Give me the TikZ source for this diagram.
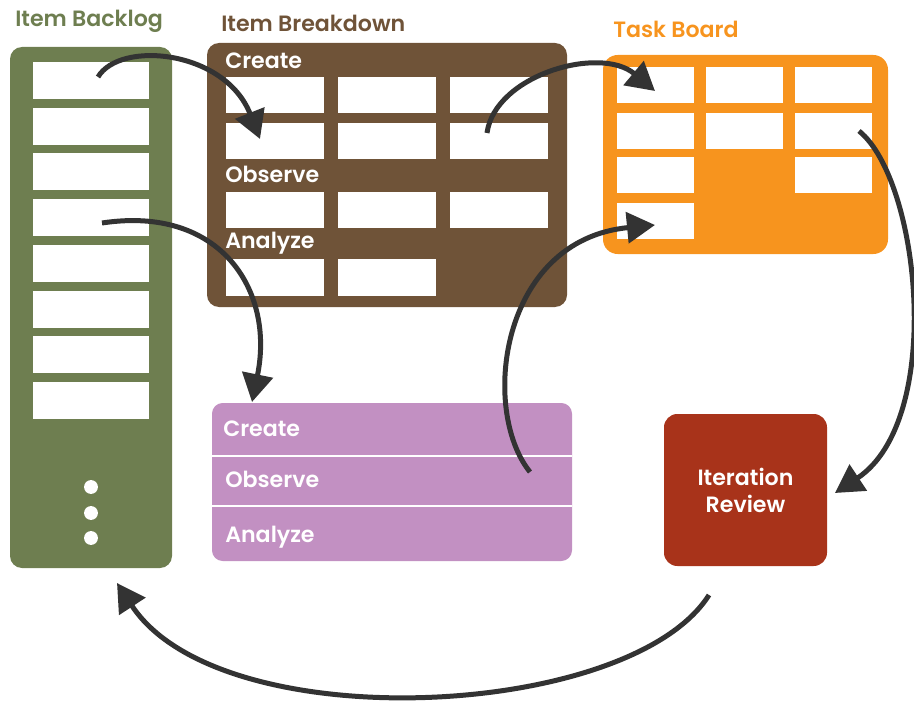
\documentclass[tikz,border=0pt]{standalone}
\usepackage{fontspec}
\setmainfont{Poppins}[BoldFont={Poppins SemiBold}]
\usetikzlibrary{arrows.meta}
\definecolor{cgreen}{HTML}{6E7E50}
\definecolor{cbrown}{HTML}{6F5338}
\definecolor{corange}{HTML}{F7941E}
\definecolor{cpurple}{HTML}{C290C2}
\definecolor{cred}{HTML}{A8331A}
\definecolor{carrow}{HTML}{333333}
\begin{document}
\begin{tikzpicture}[x=0.75pt,y=-0.75pt,
  panel/.style={rounded corners=9pt, inner sep=0pt, draw=none},
  cellb/.style={fill=white, inner sep=0pt, minimum width=87pt, minimum height=27.75pt},
  cellbr/.style={fill=white, inner sep=0pt, minimum width=73.5pt, minimum height=27.4pt},
  cello/.style={fill=white, inner sep=0pt, minimum width=57.75pt, minimum height=27pt},
  lbl/.style={anchor=base west, inner sep=0pt, text=white, font=\bfseries\fontsize{16.6}{20}\selectfont},
  ttl/.style={anchor=base west, inner sep=0pt, font=\bfseries\fontsize{16.6}{20}\selectfont},
  sep/.style={draw=white, line width=2.2pt},
  flow/.style={draw=carrow, line width=3.75pt, -{Triangle[length=21pt,width=23pt]}}
]
\useasboundingbox (0,0) rectangle (914,706);

% titles
\node[ttl, text=cgreen] (tbl) at (15,27) {Item Backlog};
\node[ttl, text=cbrown] (tbd) at (221,32) {Item Breakdown};
\node[ttl, text=corange] (ttb) at (613,38) {Task Board};

% backlog
\node[panel, fill=cgreen, minimum width=121.5pt, minimum height=390.75pt] (backlog) at (91,307.5) {};
\foreach \i in {0,...,7} \node[cellb] (bl\i) at (91,{80.5+45.7*\i}) {};
\fill[white] (91,487) circle (5.2pt);
\fill[white] (91,513) circle (5.2pt);
\fill[white] (91,538) circle (5.2pt);

% breakdown
\node[panel, fill=cbrown, minimum width=270pt, minimum height=198pt] (breakdown) at (387,175) {};
\foreach \c/\x in {1/274.5,2/386.5,3/499} {
  \node[cellbr] (bc1\c) at (\x,95) {};
  \node[cellbr] (bc2\c) at (\x,141) {};
  \node[cellbr] (bo\c) at (\x,210) {};
}
\node[cellbr] (ba1) at (274.5,277.5) {};
\node[cellbr] (ba2) at (386.5,277.5) {};
\node[lbl] (bdc) at (225,69) {Create};
\node[lbl] (bdo) at (225,183) {Observe};
\node[lbl] (bda) at (225,248) {Analyze};

% task board
\node[panel, fill=corange, rounded corners=11pt, minimum width=213.75pt, minimum height=149.25pt] (taskboard) at (745.5,154.5) {};
\foreach \c/\x in {1/655.5,2/744,3/833} {
  \node[cello] (to1\c) at (\x,85) {};
  \node[cello] (to2\c) at (\x,131) {};
}
\node[cello] (to31) at (655.5,175) {};
\node[cello] (to33) at (833,175) {};
\node[cello] (to41) at (655.5,221) {};

% purple
\node[panel, fill=cpurple, rounded corners=8pt, minimum width=270pt, minimum height=118.5pt] (purple) at (392,482) {};
\draw[sep] (212,456) -- (572,456);
\draw[sep] (212,506) -- (572,506);
\node[lbl] (ppc) at (223,436) {Create};
\node[lbl] (ppo) at (225,487) {Observe};
\node[lbl] (ppa) at (225,542) {Analyze};

% review
\node[panel, fill=cred, rounded corners=10pt, minimum width=122.25pt, minimum height=114pt,
      text=white, align=center, font=\bfseries\fontsize{16.6}{20.25}\selectfont] (review) at (745.5,490) {Iteration\\Review};

% connectors
\coordinate (s1) at (98,77);   \coordinate (e1) at (260,139);
\coordinate (s2) at (102,223); \coordinate (e2) at (252,402);
\coordinate (s3) at (487,133); \coordinate (e3) at (655,91);
\coordinate (s4) at (530,472); \coordinate (e4) at (655,225);
\coordinate (s5) at (859,131); \coordinate (e5) at (835,493);
\coordinate (s6) at (709,595); \coordinate (e6) at (117,583);

\draw[flow] (s1) .. controls (120,40) and (225,50) .. (e1);
\draw[flow] (s2) .. controls (220,205) and (275,290) .. (e2);
\draw[flow] (s3) .. controls (495,75) and (600,45) .. (e3);
\draw[flow] (s4) .. controls (480,410) and (500,240) .. (e4);
\draw[flow] (s5) .. controls (920,180) and (945,420) .. (e5);
\draw[flow] (s6) .. controls (630,720) and (220,740) .. (e6);
\end{tikzpicture}
\end{document}
